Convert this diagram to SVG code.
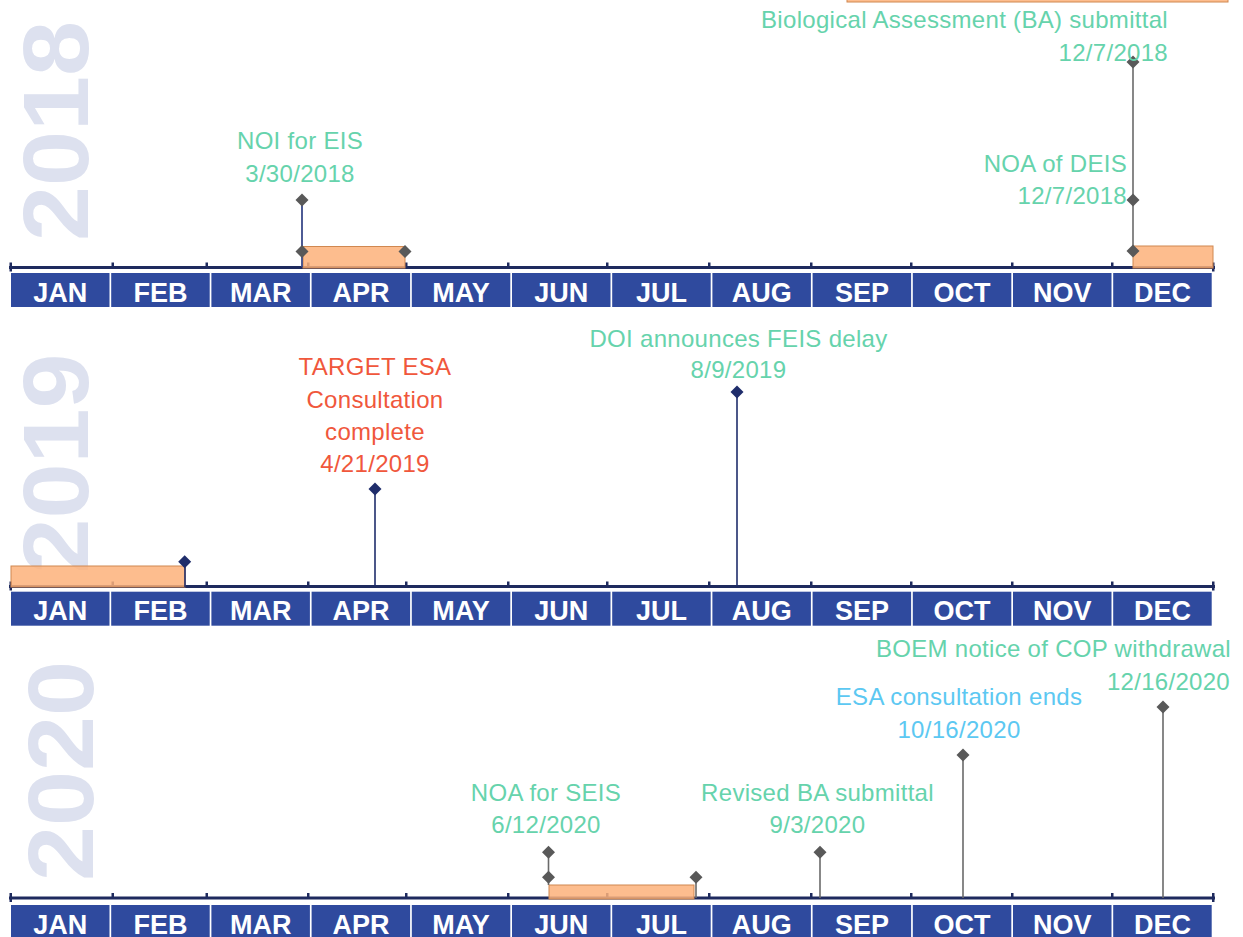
<svg xmlns="http://www.w3.org/2000/svg" xmlns:xlink="http://www.w3.org/1999/xlink" width="1243" height="937" viewBox="0 0 1243 937">
  <style>
    .year { font-family: "Liberation Sans", Arial, sans-serif; font-weight: bold; font-size: 93px; fill: #DDE1EF; text-anchor: middle; }
    .month { fill: #2F4A9E; }
    .mlabel { font-family: "Liberation Sans", Arial, sans-serif; font-weight: bold; font-size: 27px; fill: #FFFFFF; text-anchor: middle; }
    .axis { stroke: #1E2A5E; stroke-width: 3; fill: none; }
    .tick { fill: #1E2A5E; }
    .bar { fill: #FDB27A; fill-opacity: 0.85; stroke: #D08850; stroke-width: 1; }
    .lbl { font-family: "Liberation Sans", Arial, sans-serif; font-size: 24px; letter-spacing: 0.3px; text-anchor: middle; }
    .end { text-anchor: end; }
    .green { fill: #66D3AC; }
    .red { fill: #F0573C; }
    .blue { fill: #5CC8F2; }
    .stem-gray { stroke: #6A6A6A; stroke-width: 1.6; }
    .stem-navy { stroke: #1F2D6B; stroke-width: 1.6; }
    .stem-blue { stroke: #3A4A8A; stroke-width: 1.8; }
    .dg { fill: #595959; }
    .dn { fill: #1F2D6B; }
  </style>
  <defs>
    <path id="dia" d="M0,-6.5 L6.5,0 L0,6.5 L-6.5,0Z"/>
    <!-- one year row: axis with month ticks -->
    <g id="ticks">
      <rect x="9.5" y="-5" width="2.5" height="9" class="tick"/>
      <rect x="111.5" y="-5" width="2.5" height="5" class="tick"/>
      <rect x="205.5" y="-5" width="2.5" height="5" class="tick"/>
      <rect x="307" y="-5" width="2.5" height="5" class="tick"/>
      <rect x="405" y="-5" width="2.5" height="5" class="tick"/>
      <rect x="507" y="-5" width="2.5" height="5" class="tick"/>
      <rect x="606" y="-5" width="2.5" height="5" class="tick"/>
      <rect x="708" y="-5" width="2.5" height="5" class="tick"/>
      <rect x="810" y="-5" width="2.5" height="5" class="tick"/>
      <rect x="910" y="-5" width="2.5" height="5" class="tick"/>
      <rect x="1011" y="-5" width="2.5" height="5" class="tick"/>
      <rect x="1111" y="-5" width="2.5" height="5" class="tick"/>
      <rect x="1212" y="-5" width="2.5" height="9" class="tick"/>
      <line x1="9" y1="0" x2="1215" y2="0" class="axis"/>
    </g>
    <!-- month band under each axis -->
    <g id="band">
      <rect x="11" y="0" width="98.5" height="34" class="month"/>
      <rect x="111.2" y="0" width="98.5" height="34" class="month"/>
      <rect x="211.4" y="0" width="98.5" height="34" class="month"/>
      <rect x="311.6" y="0" width="98.5" height="34" class="month"/>
      <rect x="411.8" y="0" width="98.5" height="34" class="month"/>
      <rect x="512" y="0" width="98.5" height="34" class="month"/>
      <rect x="612.2" y="0" width="98.5" height="34" class="month"/>
      <rect x="712.4" y="0" width="98.5" height="34" class="month"/>
      <rect x="812.6" y="0" width="98.5" height="34" class="month"/>
      <rect x="912.8" y="0" width="98.5" height="34" class="month"/>
      <rect x="1013" y="0" width="98.5" height="34" class="month"/>
      <rect x="1113.2" y="0" width="98.5" height="34" class="month"/>
      <text x="60.3" y="28.5" class="mlabel">JAN</text>
      <text x="160.5" y="28.5" class="mlabel">FEB</text>
      <text x="260.7" y="28.5" class="mlabel">MAR</text>
      <text x="360.9" y="28.5" class="mlabel">APR</text>
      <text x="461.1" y="28.5" class="mlabel">MAY</text>
      <text x="561.3" y="28.5" class="mlabel">JUN</text>
      <text x="661.5" y="28.5" class="mlabel">JUL</text>
      <text x="761.7" y="28.5" class="mlabel">AUG</text>
      <text x="861.9" y="28.5" class="mlabel">SEP</text>
      <text x="962.1" y="28.5" class="mlabel">OCT</text>
      <text x="1062.3" y="28.5" class="mlabel">NOV</text>
      <text x="1162.5" y="28.5" class="mlabel">DEC</text>
    </g>
  </defs>

  <rect width="1243" height="937" fill="#FFFFFF"/>

  <!-- year watermarks -->
  <g id="years">
    <text class="year" transform="translate(88,131) rotate(-90)" textLength="220" lengthAdjust="spacingAndGlyphs">2018</text>
    <text class="year" transform="translate(88,463.5) rotate(-90)" textLength="220" lengthAdjust="spacingAndGlyphs">2019</text>
    <text class="year" transform="translate(93,771) rotate(-90)" textLength="220" lengthAdjust="spacingAndGlyphs">2020</text>
  </g>

  <!-- timeline rows -->
  <g id="row-2018">
    <use xlink:href="#ticks" href="#ticks" y="267.5"/>
    <use xlink:href="#band" href="#band" y="273"/>
  </g>
  <g id="row-2019">
    <use xlink:href="#ticks" href="#ticks" y="586.5"/>
    <use xlink:href="#band" href="#band" y="591.7"/>
  </g>
  <g id="row-2020">
    <use xlink:href="#ticks" href="#ticks" y="898"/>
    <use xlink:href="#band" href="#band" y="905"/>
  </g>

  <!-- duration bars -->
  <g id="bars">
    <rect x="847" y="-19" width="381" height="21" class="bar"/>
    <rect x="303" y="246.5" width="102" height="21.5" class="bar"/>
    <rect x="1133" y="246" width="80" height="22" class="bar"/>
    <rect x="11" y="566" width="174" height="21" class="bar"/>
    <rect x="549" y="885" width="145" height="14" class="bar"/>
  </g>

  <!-- stems linking markers to the axis -->
  <g id="connectors">
    <line x1="302" y1="200" x2="302" y2="267" class="stem-blue"/>
    <line x1="1133" y1="62" x2="1133" y2="251" class="stem-gray"/>
    <line x1="185" y1="562" x2="185" y2="587" class="stem-navy"/>
    <line x1="375" y1="489" x2="375" y2="586" class="stem-navy"/>
    <line x1="737" y1="392" x2="737" y2="586" class="stem-navy" stroke-width="2.6"/>
    <line x1="548.5" y1="852" x2="548.5" y2="885" class="stem-gray"/>
    <line x1="696" y1="877" x2="696" y2="898" class="stem-gray"/>
    <line x1="820" y1="852" x2="820" y2="898" class="stem-gray"/>
    <line x1="963" y1="755" x2="963" y2="898" class="stem-gray"/>
    <line x1="1163" y1="707" x2="1163" y2="898" class="stem-gray"/>
  </g>

  <!-- 2018 events -->
  <g id="noi-eis">
    <use xlink:href="#dia" href="#dia" x="302" y="200" class="dg"/>
    <use xlink:href="#dia" href="#dia" x="302" y="251.5" class="dg"/>
    <use xlink:href="#dia" href="#dia" x="405" y="251.5" class="dg"/>
    <text x="300" y="149" class="lbl green">NOI for EIS</text>
    <text x="300" y="182" class="lbl green">3/30/2018</text>
  </g>
  <g id="ba-submittal">
    <use xlink:href="#dia" href="#dia" x="1133" y="62" class="dg"/>
    <text x="1168" y="28" class="lbl end green">Biological Assessment (BA) submittal</text>
    <text x="1168" y="61" class="lbl end green">12/7/2018</text>
  </g>
  <g id="noa-deis">
    <use xlink:href="#dia" href="#dia" x="1133" y="200" class="dg"/>
    <use xlink:href="#dia" href="#dia" x="1133" y="251" class="dg"/>
    <text x="1127" y="172" class="lbl end green">NOA of DEIS</text>
    <text x="1127" y="204" class="lbl end green">12/7/2018</text>
  </g>

  <!-- 2019 events -->
  <g id="bar-end-2019">
    <use xlink:href="#dia" href="#dia" x="184.7" y="561.7" class="dn"/>
  </g>
  <g id="target-esa">
    <use xlink:href="#dia" href="#dia" x="375" y="489" class="dn"/>
    <text x="375" y="375" class="lbl red">TARGET ESA</text>
    <text x="375" y="408" class="lbl red">Consultation</text>
    <text x="375" y="440" class="lbl red">complete</text>
    <text x="375" y="471.5" class="lbl red">4/21/2019</text>
  </g>
  <g id="feis-delay">
    <use xlink:href="#dia" href="#dia" x="737" y="392" class="dn"/>
    <text x="738.5" y="347" class="lbl green">DOI announces FEIS delay</text>
    <text x="738.5" y="378" class="lbl green">8/9/2019</text>
  </g>

  <!-- 2020 events -->
  <g id="noa-seis">
    <use xlink:href="#dia" href="#dia" x="548.5" y="852.3" class="dg"/>
    <use xlink:href="#dia" href="#dia" x="548.5" y="877.3" class="dg"/>
    <use xlink:href="#dia" href="#dia" x="696" y="877.3" class="dg"/>
    <text x="546" y="801" class="lbl green">NOA for SEIS</text>
    <text x="546" y="833" class="lbl green">6/12/2020</text>
  </g>
  <g id="revised-ba">
    <use xlink:href="#dia" href="#dia" x="820" y="852.3" class="dg"/>
    <text x="817.5" y="801" class="lbl green">Revised BA submittal</text>
    <text x="817.5" y="833" class="lbl green">9/3/2020</text>
  </g>
  <g id="esa-ends">
    <use xlink:href="#dia" href="#dia" x="963" y="755" class="dg"/>
    <text x="959" y="705" class="lbl blue">ESA consultation ends</text>
    <text x="959" y="738" class="lbl blue">10/16/2020</text>
  </g>
  <g id="cop-withdrawal">
    <use xlink:href="#dia" href="#dia" x="1163" y="707" class="dg"/>
    <text x="1231" y="657" class="lbl end green">BOEM notice of COP withdrawal</text>
    <text x="1230" y="690" class="lbl end green">12/16/2020</text>
  </g>
</svg>
